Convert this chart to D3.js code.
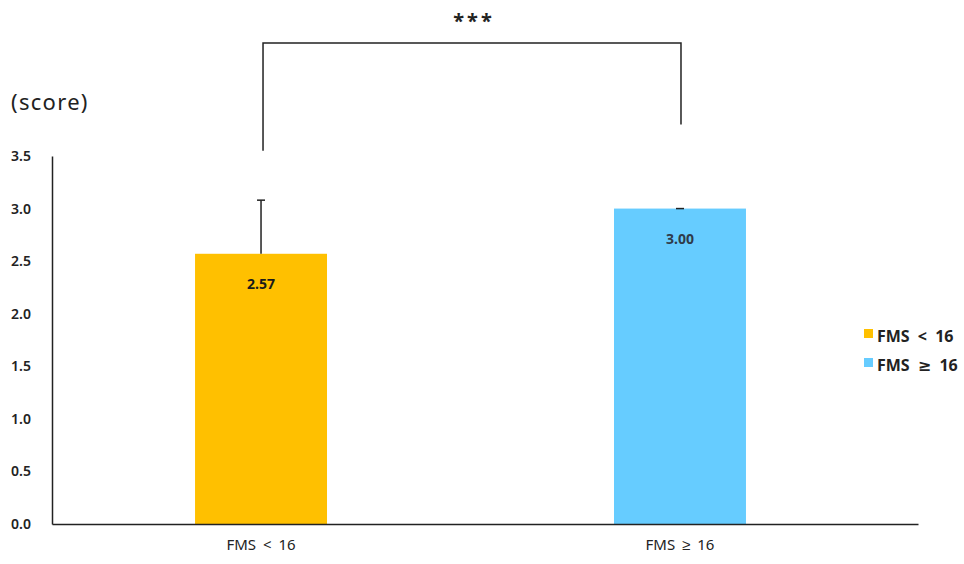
<!DOCTYPE html>
<html>
<head>
<meta charset="utf-8">
<script src="https://cdn.jsdelivr.net/npm/d3@7"></script>
<style>
  html, body { margin: 0; padding: 0; background: #fff; }
  svg { display: block; font-family: "Noto Sans", "DejaVu Sans", sans-serif; }
</style>
</head>
<body>
<svg id="chart" width="964" height="564"></svg>
<script>
// Group labels, mean scores and standard deviations
const categories = ["FMS < 16", "FMS \u2265 16"];
const means = [2.57, 3.00];
const sds = [0.51, 0.0];
const colors = ["#FFC000", "#66CCFF"];
const yTicks = [0, 0.5, 1.0, 1.5, 2.0, 2.5, 3.0, 3.5];
const significance = "***";
const bracketTops = [3.55, 3.8]; // bracket leg ends, in score units above each bar

const svg = d3.select("#chart");
const plotLeft = 52, plotRight = 918, plotTop = 156, plotBottom = 524;

const x = d3.scaleBand()
  .domain(categories)
  .range([plotLeft, plotRight])
  .paddingInner(0.685)
  .paddingOuter(0.376)
  .align(0.454);

const y = d3.scaleLinear().domain([0, 3.5]).range([plotBottom, plotTop]);

// Bars
svg.selectAll("rect.bar")
  .data(categories)
  .join("rect")
  .attr("class", "bar")
  .attr("x", d => x(d))
  .attr("width", x.bandwidth())
  .attr("y", (d, i) => y(means[i]))
  .attr("height", (d, i) => y(0) - y(means[i]))
  .attr("fill", (d, i) => colors[i]);

// Error bars (upper half only)
const eb = svg.append("g").attr("stroke", "#222").attr("stroke-width", 1.5);
categories.forEach((c, i) => {
  const cx = x(c) + x.bandwidth() / 2;
  eb.append("line").attr("x1", cx).attr("x2", cx)
    .attr("y1", y(means[i])).attr("y2", y(means[i] + sds[i]));
  eb.append("line").attr("x1", cx - 4).attr("x2", cx + 4)
    .attr("y1", y(means[i] + sds[i])).attr("y2", y(means[i] + sds[i]));
});

// Value labels inside bars
svg.selectAll("text.val")
  .data(categories)
  .join("text")
  .attr("class", "val")
  .attr("x", d => x(d) + x.bandwidth() / 2)
  .attr("y", (d, i) => y(means[i]) + 35)
  .attr("text-anchor", "middle")
  .attr("font-size", 14)
  .attr("font-weight", 700)
  .attr("fill", (d, i) => i === 0 ? "#1a1a1a" : "#2f3b4a")
  .text((d, i) => means[i].toFixed(2));

// Y axis
const yAxis = d3.axisLeft(y)
  .tickValues(yTicks)
  .tickSize(0)
  .tickPadding(21)
  .tickFormat(d3.format(".1f"));
const gy = svg.append("g").attr("transform", `translate(${plotLeft},0)`).call(yAxis);
gy.select(".domain").attr("stroke", "#222").attr("stroke-width", 1.5);
gy.selectAll("text")
  .attr("font-family", "'Noto Sans', sans-serif")
  .attr("font-size", 14)
  .attr("font-weight", 600)
  .attr("fill", "#222")
  .attr("dy", "0.32em");

// X axis
const xAxis = d3.axisBottom(x).tickSize(0).tickPadding(15);
const gx = svg.append("g").attr("transform", `translate(0,${plotBottom})`).call(xAxis);
gx.select(".domain").attr("stroke", "#222").attr("stroke-width", 1.5);
gx.selectAll("text")
  .attr("font-family", "'Noto Sans', sans-serif")
  .attr("font-size", 15)
  .attr("word-spacing", 3)
  .attr("fill", "#222");

// Unit label
svg.append("text")
  .attr("x", 11).attr("y", 110)
  .attr("font-size", 22)
  .attr("letter-spacing", 1.3)
  .attr("fill", "#222")
  .text("(score)");

// Significance bracket
const cx0 = x(categories[0]) + x.bandwidth() / 2 + 2;
const cx1 = x(categories[1]) + x.bandwidth() / 2 + 1;
const bracketY = 43;
svg.append("path")
  .attr("d", `M${cx0},${y(bracketTops[0])} V${bracketY} H${cx1} V${y(bracketTops[1])}`)
  .attr("fill", "none")
  .attr("stroke", "#222")
  .attr("stroke-width", 1.5);
svg.append("text")
  .attr("x", (cx0 + cx1) / 2 + 2)
  .attr("y", 28)
  .attr("text-anchor", "middle")
  .attr("font-size", 20)
  .attr("font-weight", 700)
  .attr("letter-spacing", 3)
  .attr("fill", "#222")
  .text(significance);

// Legend
const legend = svg.append("g").attr("transform", "translate(864,0)");
categories.forEach((c, i) => {
  const ly = 335 + i * 29;
  legend.append("rect").attr("x", 0).attr("y", ly - 6).attr("width", 9).attr("height", 9).attr("fill", colors[i]);
  legend.append("text")
    .attr("x", 13).attr("y", ly + 7)
    .attr("font-size", 16)
    .attr("font-weight", 700)
    .attr("fill", "#222")
    .attr("word-spacing", 4)
    .text(c);
});
</script>
</body>
</html>
